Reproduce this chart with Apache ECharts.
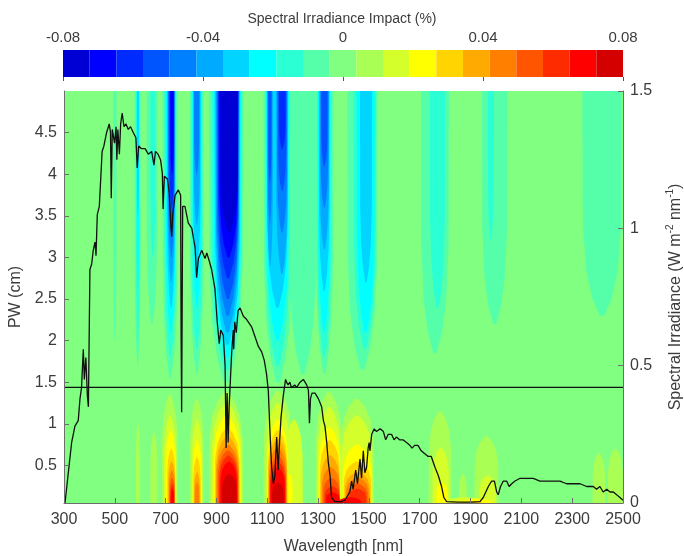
<!DOCTYPE html>
<html>
<head>
<meta charset="utf-8">
<title>Spectral Irradiance Impact</title>
<script src="https://cdn.jsdelivr.net/npm/echarts@6/dist/echarts.min.js"></script>
<style>
html, body { margin: 0; padding: 0; background: #fff; }
#main { width: 684px; height: 556px; }
</style>
</head>
<body>
<div id="main"></div>
<script>
// colour levels (jet, 21 steps from -0.08 to 0.08)
var levelMin = -0.08, levelMax = 0.08;
var jetColors = ['#0000D4', '#0000FF', '#002BFF', '#0055FF', '#0080FF', '#00AAFF', '#00D4FF',
	'#00FFFF', '#2BFFD4', '#55FFAA', '#80FF80', '#AAFF55', '#D4FF2B', '#FFFF00',
	'#FFD400', '#FFAA00', '#FF8000', '#FF5500', '#FF2B00', '#FF0000', '#D40000'];

// impact layers: [wavelength from, wavelength to, PW low, PW high, impact %]
var backgroundLayer = [[300, 2500, 0, 5, 0]];

// high PW -> negative impact (hang from the top)
var blueLayers = [
	[493, 507, 2.0, 5, -0.008],
	[578, 602, 1.7, 5, -0.008], [583, 598, 2.0, 5, -0.015], [586, 595, 2.6, 5, -0.023], [588, 594, 3.5, 5, -0.030],
	[625, 668, 2.2, 5, -0.008], [640, 660, 3.0, 5, -0.015],
	[688, 748, 1.55, 5, -0.008], [695, 742, 1.8, 5, -0.015], [700, 740, 2.1, 5, -0.023], [705, 738, 2.4, 5, -0.030],
	[708, 736, 2.7, 5, -0.038], [710, 735, 3.0, 5, -0.046], [712, 734, 3.3, 5, -0.053], [715, 733, 3.6, 5, -0.061], [718, 732, 4.0, 5, -0.069],
	[795, 850, 1.6, 5, -0.008], [800, 845, 1.9, 5, -0.015], [805, 842, 2.4, 5, -0.023], [808, 838, 2.9, 5, -0.030],
	[810, 835, 3.4, 5, -0.038], [812, 832, 4.0, 5, -0.046],
	[870, 1005, 1.5, 5, -0.008], [880, 1000, 1.65, 5, -0.015], [888, 996, 1.8, 5, -0.023], [893, 993, 1.95, 5, -0.030],
	[897, 990, 2.1, 5, -0.038], [900, 988, 2.3, 5, -0.046], [903, 987, 2.5, 5, -0.053], [906, 986, 2.75, 5, -0.061],
	[910, 985, 3.0, 5, -0.069], [915, 984, 3.3, 5, -0.076],
	[1085, 1200, 1.5, 5, -0.008], [1092, 1190, 1.7, 5, -0.015], [1096, 1185, 2.0, 5, -0.023], [1098, 1182, 2.4, 5, -0.030],
	[1100, 1122, 2.9, 5, -0.038], [1135, 1180, 2.8, 5, -0.038], [1102, 1118, 3.4, 5, -0.046], [1138, 1178, 3.3, 5, -0.046],
	[1104, 1116, 3.9, 5, -0.053], [1142, 1175, 3.8, 5, -0.053], [1146, 1172, 4.3, 5, -0.061],
	[1185, 1295, 1.6, 5, -0.008],
	[1290, 1360, 1.6, 5, -0.008], [1296, 1352, 1.8, 5, -0.015], [1300, 1348, 2.1, 5, -0.023], [1303, 1345, 2.6, 5, -0.030],
	[1306, 1343, 3.1, 5, -0.038], [1309, 1340, 3.6, 5, -0.046], [1312, 1337, 4.1, 5, -0.053],
	[1415, 1535, 1.65, 5, -0.008], [1440, 1528, 1.9, 5, -0.015], [1452, 1522, 2.1, 5, -0.023], [1465, 1512, 2.7, 5, -0.030],
	[1705, 1815, 1.85, 5, -0.008], [1740, 1800, 2.4, 5, -0.015],
	[1945, 2045, 2.2, 5, -0.008], [1968, 1992, 3.2, 5, -0.015],
	[2340, 2495, 2.3, 5, -0.008]
];

// low PW -> positive impact (rise from the bottom)
var redLayers = [
	[583, 600, 0, 1.0, 0.008],
	[640, 668, 0, 0.9, 0.008],
	[685, 748, 0, 1.35, 0.008], [693, 743, 0, 1.1, 0.015], [700, 740, 0, 0.92, 0.023], [706, 738, 0, 0.7, 0.030],
	[710, 737, 0, 0.55, 0.038], [713, 736, 0, 0.44, 0.046], [716, 735, 0, 0.35, 0.053], [718, 734, 0, 0.28, 0.061], [720, 733, 0, 0.22, 0.069],
	[795, 850, 0, 1.3, 0.008], [802, 845, 0, 1.05, 0.015], [806, 842, 0, 0.8, 0.023], [809, 838, 0, 0.6, 0.030],
	[812, 835, 0, 0.42, 0.038], [815, 832, 0, 0.3, 0.046],
	[870, 1005, 0, 1.38, 0.008], [880, 1000, 0, 1.25, 0.015], [888, 995, 0, 1.1, 0.023], [893, 992, 0, 0.95, 0.030],
	[897, 990, 0, 0.85, 0.038], [900, 988, 0, 0.75, 0.046], [905, 986, 0, 0.68, 0.053], [910, 984, 0, 0.62, 0.061],
	[915, 982, 0, 0.55, 0.069], [922, 980, 0, 0.4, 0.076],
	[1085, 1200, 0, 1.4, 0.008], [1095, 1190, 0, 1.25, 0.015], [1100, 1182, 0, 1.05, 0.023], [1102, 1180, 0, 0.92, 0.030],
	[1104, 1178, 0, 0.82, 0.038], [1106, 1176, 0, 0.72, 0.046], [1108, 1174, 0, 0.62, 0.053], [1110, 1172, 0, 0.55, 0.061],
	[1112, 1170, 0, 0.48, 0.069], [1118, 1165, 0, 0.3, 0.076],
	[1170, 1240, 0, 1.05, 0.015], [1175, 1200, 0, 0.4, 0.023],
	[1290, 1395, 0, 1.38, 0.008], [1297, 1390, 0, 1.2, 0.015], [1302, 1388, 0, 0.96, 0.023], [1306, 1386, 0, 0.8, 0.030],
	[1310, 1385, 0, 0.62, 0.038], [1315, 1385, 0, 0.48, 0.046], [1320, 1385, 0, 0.35, 0.053], [1325, 1385, 0, 0.25, 0.061],
	[1330, 1385, 0, 0.18, 0.069],
	[1385, 1520, 0, 1.3, 0.008], [1390, 1515, 0, 1.1, 0.015], [1395, 1512, 0, 0.75, 0.023], [1400, 1510, 0, 0.55, 0.030],
	[1405, 1505, 0, 0.42, 0.038], [1410, 1500, 0, 0.35, 0.046], [1415, 1495, 0, 0.28, 0.053], [1420, 1490, 0, 0.22, 0.061],
	[1380, 1470, 0, 0.12, 0.069], [1370, 1430, 0, 0.06, 0.076],
	[1735, 1825, 0, 1.15, 0.008], [1750, 1815, 0, 0.72, 0.015], [1765, 1810, 0, 0.3, 0.023],
	[1800, 1960, 0, 0.12, 0.015], [1820, 1940, 0, 0.08, 0.023],
	[1855, 1885, 0, 0.4, 0.008],
	[1915, 2010, 0, 0.85, 0.008], [1935, 2000, 0, 0.38, 0.015], [1860, 1990, 0, 0.1, 0.023], [1880, 1960, 0, 0.06, 0.038],
	[2380, 2430, 0, 0.65, 0.008], [2440, 2500, 0, 0.7, 0.008]
];

// spectral irradiance curve (W m-2 nm-1)
var wavelength = [304, 317, 330, 343, 356, 363, 369, 376, 380, 386, 392, 396, 402, 409, 415, 422, 426, 431, 439, 444,
	450, 457, 468, 478, 483, 486, 490, 499, 505, 508, 512, 518, 523, 529, 536, 544, 553, 562, 572, 583,
	588, 594, 605, 619, 632, 645, 654, 660, 670, 680, 687, 690, 695, 707, 714, 721, 724, 728, 737, 750,
	759, 761, 763, 765, 767, 776, 789, 803, 816, 822, 829, 842, 855, 862, 872, 881, 894, 903, 911, 917,
	927, 934, 938, 942, 946, 950, 955, 960, 966, 968, 972, 978, 985, 993, 1006, 1017, 1039, 1065, 1078, 1088,
	1097, 1104, 1111, 1117, 1124, 1130, 1137, 1143, 1147, 1154, 1163, 1172, 1176, 1182, 1189, 1195, 1208, 1215, 1229, 1242,
	1255, 1262, 1266, 1270, 1276, 1288, 1301, 1314, 1321, 1327, 1334, 1340, 1347, 1353, 1366, 1390, 1405, 1412, 1425, 1432,
	1438, 1448, 1455, 1465, 1471, 1478, 1484, 1491, 1497, 1501, 1504, 1511, 1521, 1530, 1544, 1557, 1566, 1576, 1589, 1599,
	1608, 1621, 1634, 1648, 1661, 1670, 1680, 1693, 1706, 1719, 1732, 1745, 1760, 1773, 1786, 1795, 1806, 1850, 1900, 1937,
	1950, 1970, 1983, 1994, 2003, 2009, 2018, 2029, 2042, 2052, 2062, 2075, 2095, 2121, 2147, 2173, 2200, 2226, 2252, 2278,
	2305, 2331, 2357, 2383, 2396, 2409, 2422, 2436, 2449, 2462, 2475, 2488, 2500];
var irradiance = [0, 0.11, 0.22, 0.28, 0.30, 0.38, 0.42, 0.56, 0.45, 0.53, 0.39, 0.35, 0.85, 0.87, 0.92, 0.95, 0.90, 1.05, 1.08, 1.17,
	1.28, 1.30, 1.35, 1.38, 1.35, 1.11, 1.36, 1.31, 1.37, 1.25, 1.36, 1.27, 1.38, 1.42, 1.37, 1.38, 1.36, 1.37, 1.35, 1.33,
	1.22, 1.30, 1.29, 1.29, 1.27, 1.28, 1.23, 1.28, 1.27, 1.25, 1.20, 1.07, 1.19, 1.18, 1.13, 1.00, 0.97, 1.05, 1.12, 1.14,
	1.12, 0.60, 0.33, 0.70, 1.08, 1.08, 1.02, 1.00, 0.93, 0.82, 0.89, 0.92, 0.89, 0.91, 0.88, 0.85, 0.78, 0.66, 0.58, 0.63,
	0.61, 0.50, 0.20, 0.40, 0.22, 0.35, 0.45, 0.55, 0.63, 0.56, 0.66, 0.62, 0.70, 0.71, 0.68, 0.67, 0.64, 0.57, 0.55, 0.52,
	0.47, 0.41, 0.25, 0.13, 0.07, 0.10, 0.24, 0.12, 0.20, 0.31, 0.39, 0.45, 0.44, 0.43, 0.44, 0.42, 0.43, 0.42, 0.44, 0.45,
	0.43, 0.41, 0.29, 0.38, 0.40, 0.40, 0.38, 0.35, 0.30, 0.28, 0.22, 0.15, 0.10, 0.02, 0.005, 0.005, 0.01, 0.02, 0.04, 0.08,
	0.05, 0.12, 0.07, 0.16, 0.09, 0.19, 0.11, 0.13, 0.20, 0.22, 0.19, 0.25, 0.27, 0.26, 0.27, 0.26, 0.23, 0.25, 0.25, 0.23,
	0.24, 0.23, 0.23, 0.22, 0.21, 0.20, 0.21, 0.21, 0.19, 0.18, 0.17, 0.17, 0.13, 0.10, 0.06, 0.02, 0.005, 0.003, 0.003, 0.005,
	0.02, 0.06, 0.08, 0.08, 0.04, 0.03, 0.06, 0.08, 0.08, 0.06, 0.07, 0.08, 0.09, 0.09, 0.09, 0.08, 0.08, 0.08, 0.08, 0.07,
	0.07, 0.07, 0.06, 0.06, 0.05, 0.06, 0.04, 0.05, 0.04, 0.04, 0.03, 0.02, 0.01];

var refPW = 1.44;

var textColor = '#3c3c3c';
var axisColor = '#6e6e6e';
var font = 'Liberation Sans';

//=================================================================================
// build the series data
var step = (levelMax - levelMin) / jetColors.length;
var pieces = jetColors.map(function (c, i) {
	return { min: levelMin + i * step, max: levelMin + (i + 1) * step, color: c };
});
var barData = jetColors.map(function (c, i) {
	var lo = levelMin + i * step;
	return [lo, lo + step, 0, 1, lo + step / 2];
});

// weak levels first so the strong ones end up on top
var layers = backgroundLayer.concat(blueLayers, redLayers);
layers.sort(function (a, b) { return Math.abs(a[4]) - Math.abs(b[4]); });

var curve = wavelength.map(function (w, i) { return [w, irradiance[i]]; });

// outline of a contour lobe, wide at base and narrowing to the tip
function lobe(mid, half, base, tip) {
	var fr = [[0, 1], [0.6, 0.97], [0.8, 0.8], [0.92, 0.5], [1, 0.12]];
	var right = [], left = [];
	fr.forEach(function (f) {
		var p = base + (tip - base) * f[0];
		right.push([mid + half * f[1], p]);
		left.unshift([mid - half * f[1], p]);
	});
	return right.concat(left);
}

function renderLayer(params, api) {
	var w0 = api.value(0), w1 = api.value(1), p0 = api.value(2), p1 = api.value(3);
	var mid = (w0 + w1) / 2, half = (w1 - w0) / 2;
	var shape;
	if (p1 >= 5 && p0 > 0) {
		shape = lobe(mid, half, p1, p0);
	} else if (p0 <= 0 && p1 < 5) {
		shape = lobe(mid, half, p0, p1);
	} else {
		shape = [[w0, p0], [w1, p0], [w1, p1], [w0, p1]];
	}
	return {
		type: 'polygon',
		shape: { points: shape.map(function (p) { return api.coord(p); }) },
		style: { fill: api.visual('color') }
	};
}

function renderLevel(params, api) {
	var a = api.coord([api.value(0), 1]);
	var b = api.coord([api.value(1), 0]);
	return {
		type: 'rect',
		shape: { x: a[0], y: a[1], width: b[0] - a[0], height: b[1] - a[1] },
		style: { fill: api.visual('color') }
	};
}

//=================================================================================
var myChart = echarts.init(document.getElementById('main'));
myChart.setOption({
	animation: false,
	backgroundColor: '#ffffff',
	textStyle: { fontFamily: font, color: textColor },
	title: {
		text: 'Spectral Irradiance Impact (%)',
		left: 'center',
		top: 7,
		textStyle: { fontFamily: font, fontSize: 14, fontWeight: 'normal', color: textColor }
	},
	grid: [
		{ left: 64, right: 61, top: 91, bottom: 53, containLabel: false, outerBoundsMode: 'none' },
		{ left: 63, right: 61, top: 50, height: 27, containLabel: false, outerBoundsMode: 'none' }
	],
	visualMap: {
		type: 'piecewise',
		show: false,
		dimension: 4,
		seriesIndex: [0, 3],
		pieces: pieces
	},
	xAxis: [{
		gridIndex: 0,
		type: 'value',
		min: 300,
		max: 2500,
		interval: 200,
		z: 10,
		name: 'Wavelength [nm]',
		nameLocation: 'middle',
		nameGap: 36,
		nameTextStyle: { fontSize: 16, color: textColor },
		axisLine: { lineStyle: { color: axisColor } },
		axisTick: { inside: true, length: 5, lineStyle: { color: axisColor } },
		axisLabel: { fontSize: 16, color: textColor, margin: 9, formatter: function (v) { return String(v); } },
		splitLine: { show: false }
	}, {
		gridIndex: 1,
		type: 'value',
		position: 'top',
		min: levelMin,
		max: levelMax,
		interval: 0.04,
		z: 10,
		axisLine: { show: false },
		axisTick: { inside: true, length: 4, lineStyle: { color: '#555' } },
		axisLabel: { fontSize: 15, color: textColor, margin: 5 },
		splitLine: { show: false }
	}],
	yAxis: [{
		gridIndex: 0,
		type: 'value',
		min: 0.05,
		max: 5,
		splitNumber: 10,
		z: 10,
		name: 'PW (cm)',
		nameLocation: 'middle',
		nameGap: 40,
		nameTextStyle: { fontSize: 16, color: textColor },
		axisLine: { show: true, lineStyle: { color: axisColor } },
		axisTick: { inside: true, length: 5, lineStyle: { color: axisColor } },
		axisLabel: { fontSize: 16, color: textColor, margin: 7, showMinLabel: false, showMaxLabel: false },
		splitLine: { show: false }
	}, {
		gridIndex: 0,
		type: 'value',
		position: 'right',
		min: 0,
		max: 1.5,
		interval: 0.5,
		z: 10,
		name: 'Spectral Irradiance (W m{sup|-2} nm{sup|-1})',
		nameLocation: 'middle',
		nameGap: 42,
		nameTextStyle: {
			fontSize: 16, color: textColor, lineHeight: 22,
			rich: { sup: { fontSize: 10, color: textColor, verticalAlign: 'top', lineHeight: 10 } }
		},
		axisLine: { show: true, lineStyle: { color: axisColor } },
		axisTick: { inside: true, length: 5, lineStyle: { color: axisColor } },
		axisLabel: { fontSize: 16, color: textColor, margin: 7 },
		splitLine: { show: false }
	}, {
		gridIndex: 1,
		type: 'value',
		min: 0,
		max: 1,
		show: false
	}],
	series: [{
		type: 'custom',
		name: 'impact',
		xAxisIndex: 0,
		yAxisIndex: 0,
		clip: true,
		encode: { x: [0, 1], y: [2, 3] },
		renderItem: renderLayer,
		data: layers,
		z: 1
	}, {
		type: 'line',
		name: 'irradiance',
		xAxisIndex: 0,
		yAxisIndex: 1,
		data: curve,
		showSymbol: false,
		symbol: 'none',
		lineStyle: { color: '#111', width: 1.3 },
		z: 5
	}, {
		type: 'line',
		name: 'reference PW',
		xAxisIndex: 0,
		yAxisIndex: 0,
		data: [[300, refPW], [2500, refPW]],
		symbol: 'none',
		lineStyle: { color: '#111', width: 1.3 },
		z: 5
	}, {
		type: 'custom',
		name: 'colorbar',
		xAxisIndex: 1,
		yAxisIndex: 2,
		encode: { x: [0, 1], y: [2, 3] },
		renderItem: renderLevel,
		data: barData,
		z: 1
	}]
});
</script>
</body>
</html>
